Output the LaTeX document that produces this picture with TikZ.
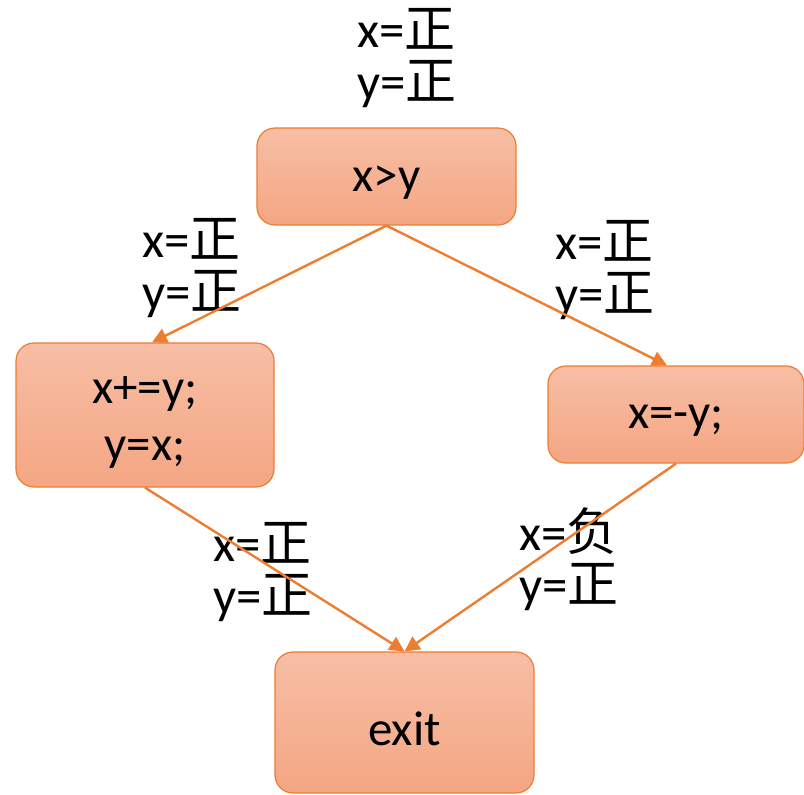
\documentclass[tikz,border=0pt]{standalone}
\usepackage{fontspec}
\setmainfont{Carlito}
\newfontfamily\cjk{Noto Sans CJK SC}
\usetikzlibrary{arrows.meta}
\definecolor{boxline}{HTML}{ED7D31}
\definecolor{boxtop}{HTML}{F7BEA5}
\definecolor{boxbot}{HTML}{F4A683}
\newcommand{\zh}[1]{{\cjk #1}}
\newcommand{\dn}[1]{\raisebox{-6pt}[\height][\depth]{#1}}
\tikzset{
  box/.style={rounded corners=18pt, draw=boxline, line width=1.2pt, top color=boxtop, bottom color=boxbot, inner sep=0pt, align=center, font=\fontsize{49}{57}\selectfont},
  lab/.style={inner sep=0pt, align=left, anchor=west, font=\fontsize{51}{52}\selectfont},
  conn/.style={draw=boxline, line width=2.4pt, -{Triangle[length=15pt,width=15pt]}}
}
\begin{document}
\begin{tikzpicture}[x=1pt,y=-1pt]
\useasboundingbox (0,0) rectangle (804,795);
\node[box, minimum width=259pt, minimum height=97pt] (top) at (386.5,176.5) {\dn{x>y}};
\node[box, minimum width=258pt, minimum height=144pt] (left) at (145,415) {\dn{\begin{tabular}{@{}c@{}}x+=y;\\[0pt]y=x;\end{tabular}}};
\node[box, minimum width=256pt, minimum height=97pt] (right) at (676,414.5) {\dn{x=-y;}};
\node[box, minimum width=259pt, minimum height=141pt] (exit) at (404.5,722.5) {\dn{exit}};
\node[lab] (l0) at (357,58) {x=\zh{正}\\y=\zh{正}};
\node[lab] (l1) at (142,268.5) {x=\zh{正}\\y=\zh{正}};
\node[lab] (l2) at (555,270) {x=\zh{正}\\y=\zh{正}};
\node[lab] (l3) at (213,572) {x=\zh{正}\\y=\zh{正}};
\node[lab] (l4) at (519,559) {x=\zh{负}\\y=\zh{正}};
\draw[conn] (top.south) -- ([xshift=7pt]left.north);
\draw[conn] (top.south) -- ([xshift=-9pt]right.north);
\draw[conn] (left.south) -- (exit.north);
\draw[conn] (right.south) -- (exit.north);
\end{tikzpicture}
\end{document}
